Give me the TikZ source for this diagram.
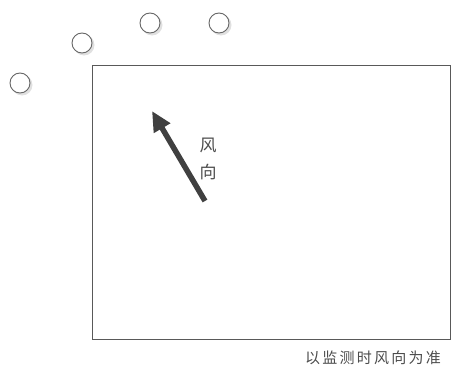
\documentclass[tikz,border=0pt]{standalone}
\usepackage{fontspec}
\newfontfamily\cjk{Noto Sans CJK SC}
\newfontfamily\cjkwide[LetterSpace=15]{Noto Sans CJK SC}
\usetikzlibrary{arrows.meta}
\begin{document}
\begin{tikzpicture}[x=1pt,y=-1pt,
  mark circle/.style={circle,draw=black!60,line width=0.9pt,fill=white,minimum size=20pt,inner sep=0pt},
  shade circle/.style={circle,fill=black!12,minimum size=21pt,inner sep=0pt},
  frame/.style={draw=black!65,line width=0.9pt},
  wind/.style={line width=5.5pt,draw=black!75,-{Triangle[length=20pt,width=18pt]}},
  lbl/.style={font=\cjk\fontsize{17}{19}\selectfont,text=black!70,inner sep=1pt}]
\useasboundingbox (0,0) rectangle (455,367);
\foreach \i/\x/\y in {1/20/83,2/82/43,3/150/23,4/219/23}{
  \node[shade circle] at (\x+2,\y+2) {};
  \node[mark circle] (c\i) at (\x,\y) {};
}
\node[frame,minimum width=358pt,minimum height=274pt,anchor=north west,inner sep=0pt] (box) at (92,65) {};
\coordinate (tail) at (205,201);
\coordinate (tip) at (152,111);
\draw[wind] (tail) -- (tip);
\node[lbl] (f1) at (208,145) {风};
\node[lbl] (f2) at (208,172) {向};
\node[lbl,font=\cjkwide\fontsize{15}{17}\selectfont] (note) at (373,358) {以监测时风向为准};
\end{tikzpicture}
\end{document}
